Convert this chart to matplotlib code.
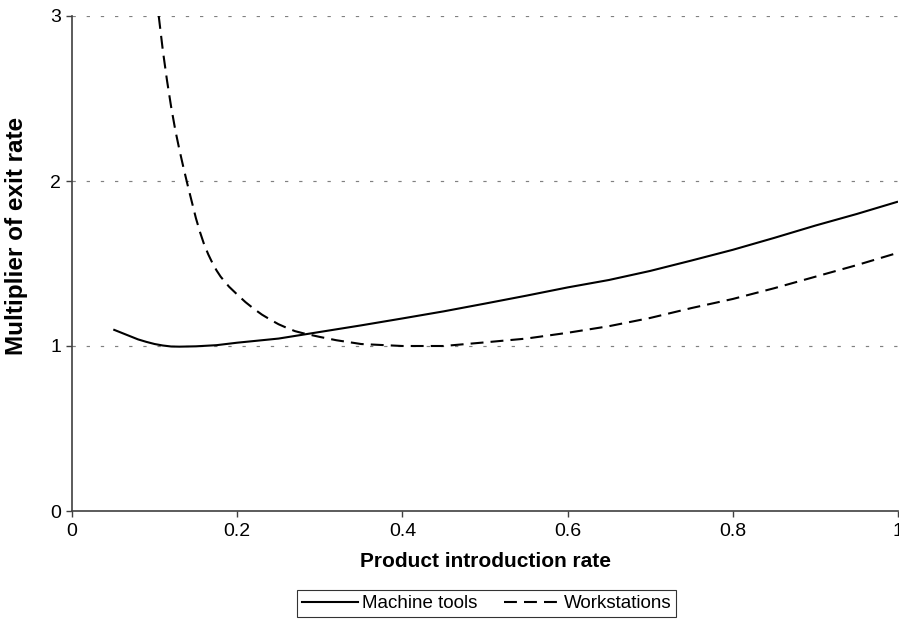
import matplotlib
matplotlib.use("Agg")
import matplotlib.pyplot as plt
from matplotlib.lines import Line2D

plt.rcParams['font.family'] = ['Liberation Sans', 'DejaVu Sans']

# Data
machine_x = [0.05, 0.065, 0.08, 0.09, 0.10, 0.11, 0.12, 0.13, 0.15, 0.175, 0.2, 0.25,
             0.3, 0.35, 0.4, 0.45, 0.5, 0.55, 0.6, 0.65, 0.7, 0.75, 0.8, 0.85, 0.9, 0.95, 1.0]
machine_y = [1.10, 1.07, 1.04, 1.025, 1.012, 1.003, 0.997, 0.996, 0.998, 1.005, 1.02, 1.045,
             1.085, 1.125, 1.167, 1.21, 1.257, 1.305, 1.355, 1.40, 1.455, 1.518, 1.583, 1.655, 1.73, 1.80, 1.875]

work_x = [0.105, 0.11, 0.115, 0.12, 0.125, 0.13, 0.135, 0.14, 0.145, 0.15, 0.155, 0.16, 0.165,
          0.17, 0.175, 0.18, 0.19, 0.2, 0.21, 0.22, 0.23, 0.24, 0.25, 0.26, 0.27, 0.28,
          0.3, 0.32, 0.35, 0.4, 0.45, 0.5, 0.55, 0.6,
          0.65, 0.7, 0.75, 0.8, 0.85, 0.9, 0.95, 1.0]
work_y = [3.0, 2.79, 2.61, 2.45, 2.31, 2.19, 2.08, 1.975, 1.875, 1.775, 1.69, 1.615, 1.555,
          1.503, 1.458, 1.42, 1.36, 1.312, 1.266, 1.226, 1.19, 1.16, 1.132, 1.11, 1.09, 1.077,
          1.055, 1.035, 1.012, 1.0, 1.0, 1.022, 1.045, 1.08,
          1.12, 1.17, 1.23, 1.285, 1.35, 1.42, 1.49, 1.565]

x_ticks = [0, 0.2, 0.4, 0.6, 0.8, 1]
x_tick_labels = ['0', '0.2', '0.4', '0.6', '0.8', '1']
y_ticks = [0, 1, 2, 3]
y_tick_labels = ['0', '1', '2', '3']
series_names = ['Machine tools', 'Workstations']

W, H = 899, 619
fig = plt.figure(figsize=(W / 100, H / 100), dpi=100)
ax = fig.add_axes([72 / W, 1 - 511 / H, (898 - 72) / W, (511 - 16) / H])

ax.set_xlim(0, 1)
ax.set_ylim(0, 3)

for yv in y_ticks[1:]:
    ax.axhline(yv, color='#808080', linewidth=0.85, linestyle=(0, (2.8, 9.2)), zorder=1)

ax.plot(machine_x, machine_y, color='black', linewidth=1.5, solid_capstyle='butt', zorder=3)
ax.plot(work_x, work_y, color='black', linewidth=1.5, linestyle=(0, (6.2, 3.4)), zorder=3)

ax.set_xticks(x_ticks)
ax.set_xticklabels(x_tick_labels)
ax.set_yticks(y_ticks)
ax.set_yticklabels(y_tick_labels)
ax.tick_params(axis='both', direction='out', length=4, width=1.0, color='#404040',
               labelsize=14, pad=4)
ax.tick_params(axis='x', pad=5)

for s in ['top', 'right']:
    ax.spines[s].set_visible(False)
for s in ['left', 'bottom']:
    ax.spines[s].set_color('#404040')
    ax.spines[s].set_linewidth(1.2)

ax.set_xlabel('Product introduction rate', fontsize=15, fontweight='bold', labelpad=8)
ax.set_ylabel('Multiplier of exit rate', fontsize=17.5, fontweight='bold')
ax.yaxis.set_label_coords(-44 / (898 - 72), (511 - 236) / (511 - 16))

handles = [Line2D([], [], color='black', linewidth=1.5),
           Line2D([], [], color='black', linewidth=1.5, linestyle=(0, (6.2, 3.4)))]
leg = fig.legend(handles, series_names, loc='center', bbox_to_anchor=(486.5 / W, 1 - 603.5 / H),
                 ncol=2, fontsize=13.5, frameon=True, fancybox=False, handlelength=3.0,
                 handletextpad=0.2, columnspacing=1.4, borderpad=0.25, borderaxespad=0)
leg.get_frame().set_edgecolor('black')
leg.get_frame().set_linewidth(0.8)

fig.savefig('out.png', dpi=100)
